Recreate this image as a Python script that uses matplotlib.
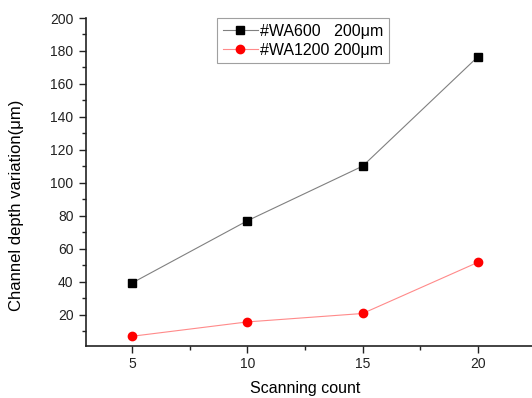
import matplotlib
matplotlib.use("Agg")
import matplotlib.pyplot as plt
from matplotlib.ticker import MultipleLocator

plt.rcParams['font.family'] = ['Liberation Sans', 'DejaVu Sans']

scan_count = [5, 10, 15, 20]
wa600 = [39.4, 77.1, 110.2, 176.5]
wa1200 = [7.1, 15.8, 20.9, 51.9]
label600 = "#WA600   200μm"
label1200 = "#WA1200 200μm"

fig = plt.figure(figsize=(5.32, 3.98), dpi=100)
ax = fig.add_axes([86/532, 1 - 346/398, 1 - 86/532, (346 - 18)/398])

ax.plot(scan_count, wa600, color='#808080', lw=0.8, marker='s', ms=5.2,
        mfc='black', mec='black', label=label600)
ax.plot(scan_count, wa1200, color='#ff8a8a', lw=0.8, marker='o', ms=6,
        mfc='red', mec='red', label=label1200)

ax.set_xlim(3.0, 22.35)
ax.set_ylim(1.2, 200)
ax.xaxis.set_major_locator(MultipleLocator(5))
ax.xaxis.set_minor_locator(MultipleLocator(2.5))
ax.yaxis.set_major_locator(MultipleLocator(20))
ax.yaxis.set_minor_locator(MultipleLocator(10))
ax.set_yticks(range(20, 201, 20))
ax.set_xticks(scan_count)

for s in ['top', 'right']:
    ax.spines[s].set_visible(False)
for s in ['left', 'bottom']:
    ax.spines[s].set_linewidth(1.2)
    ax.spines[s].set_color('#222222')

ax.tick_params(which='major', direction='out', length=5, width=1, labelsize=10, colors='#222222', pad=4)
ax.tick_params(which='minor', direction='out', length=3, width=1, colors='#222222')
ax.tick_params(axis='x', pad=3)

ax.set_xlabel("Scanning count", fontsize=11.5, va='center')
ax.xaxis.set_label_coords((305 - 86) / 446, (346 - 389) / 328)
ax.set_ylabel("Channel depth variation(μm)", fontsize=12, va='center')
ax.yaxis.set_label_coords((17 - 86) / 446, (346 - 205) / 328)

leg = ax.legend(loc='upper left', bbox_to_anchor=((217-86)/446, 1.0), fontsize=11.5,
                frameon=True, fancybox=False, edgecolor='#888888', borderpad=0.35,
                labelspacing=0.25, handlelength=2.2, handletextpad=0.15, borderaxespad=0)
leg.get_frame().set_linewidth(0.8)

fig.savefig("out.png", dpi=100)
